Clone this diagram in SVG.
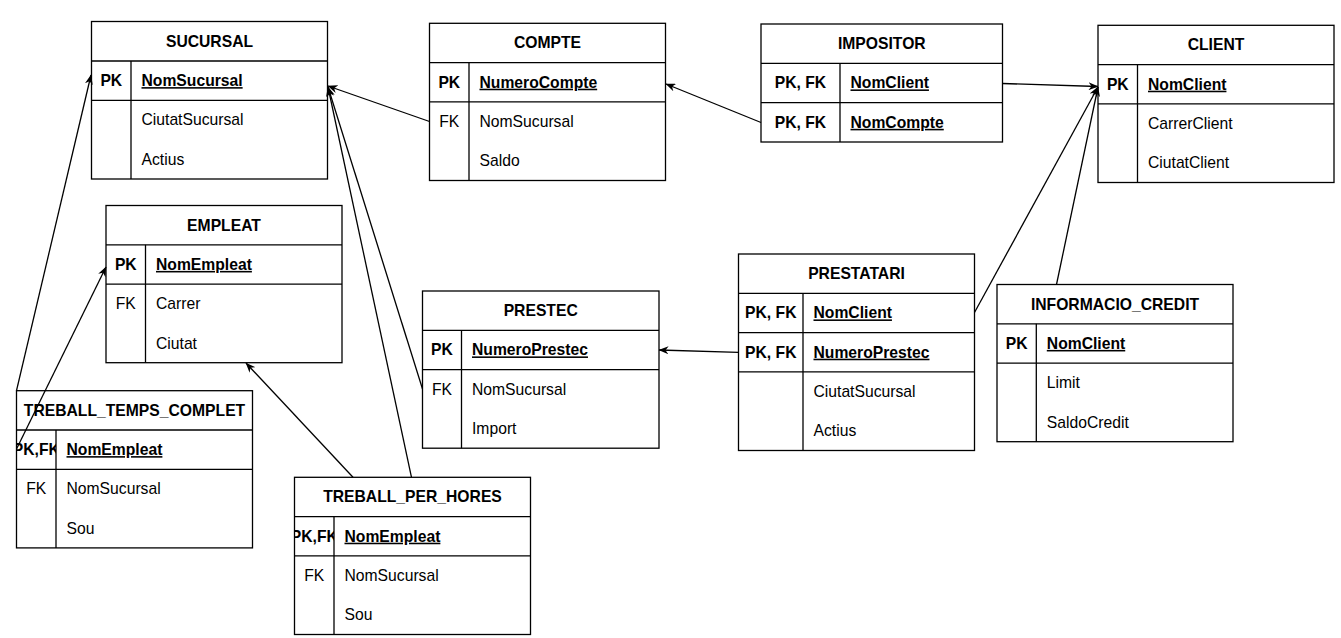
<svg xmlns="http://www.w3.org/2000/svg" width="1341" height="638" viewBox="0 0 1341 638">
<defs>
<style>
.box{fill:#fff;stroke:#000;stroke-width:1.3}
.ln{stroke:#000;stroke-width:1.3;fill:none}
.t{font-family:"Liberation Sans",Arial,sans-serif;font-size:15.7px;fill:#000}
.b{font-weight:bold}
.u{font-weight:bold;text-decoration:underline}
.c{text-anchor:middle}
.conn{stroke:#000;stroke-width:1.3;fill:none;marker-end:url(#arr)}
</style>
<marker id="arr" viewBox="0 0 10 8" markerWidth="10" markerHeight="8" refX="9.5" refY="4" orient="auto" markerUnits="userSpaceOnUse">
<path d="M0,0 L10,4 L0,8 L3,4 Z" fill="#000"/>
</marker>
<clipPath id="clipTTC"><rect x="16.5" y="430" width="39.5" height="39.3"/></clipPath>
<clipPath id="clipTPH"><rect x="294.5" y="516.6" width="39.5" height="39.3"/></clipPath>
</defs>
<rect width="1341" height="638" fill="#fff"/>

<g id="sucursal">
<rect class="box" x="91.5" y="21.5" width="236" height="157.5"/>
<line class="ln" x1="91.5" y1="61" x2="327.5" y2="61"/>
<line class="ln" x1="91.5" y1="100.3" x2="327.5" y2="100.3"/>
<line class="ln" x1="131" y1="61" x2="131" y2="179"/>
<text class="t b c" x="209.5" y="46.8">SUCURSAL</text>
<text class="t b c" x="111.3" y="86.1">PK</text>
<text class="t u" x="141.5" y="86.1">NomSucursal</text>
<text class="t" x="141.5" y="125.4">CiutatSucursal</text>
<text class="t" x="141.5" y="164.7">Actius</text>
</g>

<g id="compte">
<rect class="box" x="429.5" y="23.3" width="236" height="157.2"/>
<line class="ln" x1="429.5" y1="62.6" x2="665.5" y2="62.6"/>
<line class="ln" x1="429.5" y1="101.9" x2="665.5" y2="101.9"/>
<line class="ln" x1="469" y1="62.6" x2="469" y2="180.5"/>
<text class="t b c" x="547.5" y="48.4">COMPTE</text>
<text class="t b c" x="449.3" y="87.7">PK</text>
<text class="t u" x="479.5" y="87.7">NumeroCompte</text>
<text class="t b c" x="449.3" y="127" style="font-weight:normal">FK</text>
<text class="t" x="479.5" y="127">NomSucursal</text>
<text class="t" x="479.5" y="166.3">Saldo</text>
</g>

<g id="impositor">
<rect class="box" x="761" y="24" width="241.5" height="118"/>
<line class="ln" x1="761" y1="63.3" x2="1002.5" y2="63.3"/>
<line class="ln" x1="761" y1="102.6" x2="1002.5" y2="102.6"/>
<line class="ln" x1="840" y1="63.3" x2="840" y2="142"/>
<text class="t b c" x="881.8" y="49.1">IMPOSITOR</text>
<text class="t b c" x="800.5" y="88.4">PK, FK</text>
<text class="t u" x="850.5" y="88.4">NomClient</text>
<text class="t b c" x="800.5" y="127.8">PK, FK</text>
<text class="t u" x="850.5" y="127.8">NomCompte</text>
</g>

<g id="client">
<rect class="box" x="1098" y="25.3" width="236" height="157.2"/>
<line class="ln" x1="1098" y1="64.6" x2="1334" y2="64.6"/>
<line class="ln" x1="1098" y1="103.9" x2="1334" y2="103.9"/>
<line class="ln" x1="1137.5" y1="64.6" x2="1137.5" y2="182.5"/>
<text class="t b c" x="1216" y="50.4">CLIENT</text>
<text class="t b c" x="1117.8" y="89.7">PK</text>
<text class="t u" x="1148" y="89.7">NomClient</text>
<text class="t" x="1148" y="129">CarrerClient</text>
<text class="t" x="1148" y="168.3">CiutatClient</text>
</g>

<g id="empleat">
<rect class="box" x="106" y="205.5" width="236" height="157.2"/>
<line class="ln" x1="106" y1="244.8" x2="342" y2="244.8"/>
<line class="ln" x1="106" y1="284.1" x2="342" y2="284.1"/>
<line class="ln" x1="145.5" y1="244.8" x2="145.5" y2="362.7"/>
<text class="t b c" x="224" y="230.6">EMPLEAT</text>
<text class="t b c" x="125.8" y="269.9">PK</text>
<text class="t u" x="156" y="269.9">NomEmpleat</text>
<text class="t c" x="125.8" y="309.2">FK</text>
<text class="t" x="156" y="309.2">Carrer</text>
<text class="t" x="156" y="348.5">Ciutat</text>
</g>

<g id="prestec">
<rect class="box" x="422.5" y="291" width="236.5" height="157.2"/>
<line class="ln" x1="422.5" y1="330.3" x2="659" y2="330.3"/>
<line class="ln" x1="422.5" y1="369.6" x2="659" y2="369.6"/>
<line class="ln" x1="461.5" y1="330.3" x2="461.5" y2="448.2"/>
<text class="t b c" x="540.7" y="316.1">PRESTEC</text>
<text class="t b c" x="442" y="355.4">PK</text>
<text class="t u" x="472" y="355.4">NumeroPrestec</text>
<text class="t c" x="442" y="394.7">FK</text>
<text class="t" x="472" y="394.7">NomSucursal</text>
<text class="t" x="472" y="434">Import</text>
</g>

<g id="prestatari">
<rect class="box" x="738.5" y="254" width="236" height="196.5"/>
<line class="ln" x1="738.5" y1="293.3" x2="974.5" y2="293.3"/>
<line class="ln" x1="738.5" y1="332.6" x2="974.5" y2="332.6"/>
<line class="ln" x1="738.5" y1="371.9" x2="974.5" y2="371.9"/>
<line class="ln" x1="803" y1="293.3" x2="803" y2="450.5"/>
<text class="t b c" x="856.5" y="279.1">PRESTATARI</text>
<text class="t b c" x="770.8" y="318.4">PK, FK</text>
<text class="t u" x="813.5" y="318.4">NomClient</text>
<text class="t b c" x="770.8" y="357.7">PK, FK</text>
<text class="t u" x="813.5" y="357.7">NumeroPrestec</text>
<text class="t" x="813.5" y="397">CiutatSucursal</text>
<text class="t" x="813.5" y="436.3">Actius</text>
</g>

<g id="informacio_credit">
<rect class="box" x="997" y="284.5" width="236" height="157.2"/>
<line class="ln" x1="997" y1="323.8" x2="1233" y2="323.8"/>
<line class="ln" x1="997" y1="363.1" x2="1233" y2="363.1"/>
<line class="ln" x1="1036.3" y1="323.8" x2="1036.3" y2="441.7"/>
<text class="t b c" x="1115" y="309.6">INFORMACIO_CREDIT</text>
<text class="t b c" x="1016.7" y="348.9">PK</text>
<text class="t u" x="1046.8" y="348.9">NomClient</text>
<text class="t" x="1046.8" y="388.2">Limit</text>
<text class="t" x="1046.8" y="427.5">SaldoCredit</text>
</g>

<g id="treball_temps_complet">
<rect class="box" x="16.5" y="390.7" width="236" height="157.2"/>
<line class="ln" x1="16.5" y1="430" x2="252.5" y2="430"/>
<line class="ln" x1="16.5" y1="469.3" x2="252.5" y2="469.3"/>
<line class="ln" x1="56" y1="430" x2="56" y2="547.9"/>
<text class="t b c" x="134.5" y="415.8">TREBALL_TEMPS_COMPLET</text>
<text class="t b c" x="36.3" y="455.1" clip-path="url(#clipTTC)">PK,FK</text>
<text class="t u" x="66.5" y="455.1">NomEmpleat</text>
<text class="t c" x="36.3" y="494.4">FK</text>
<text class="t" x="66.5" y="494.4">NomSucursal</text>
<text class="t" x="66.5" y="533.7">Sou</text>
</g>

<g id="treball_per_hores">
<rect class="box" x="294.5" y="477.3" width="236" height="157.2"/>
<line class="ln" x1="294.5" y1="516.6" x2="530.5" y2="516.6"/>
<line class="ln" x1="294.5" y1="555.9" x2="530.5" y2="555.9"/>
<line class="ln" x1="334" y1="516.6" x2="334" y2="634.5"/>
<text class="t b c" x="412.5" y="502.4">TREBALL_PER_HORES</text>
<text class="t b c" x="314.3" y="541.7" clip-path="url(#clipTPH)">PK,FK</text>
<text class="t u" x="344.5" y="541.7">NomEmpleat</text>
<text class="t c" x="314.3" y="581">FK</text>
<text class="t" x="344.5" y="581">NomSucursal</text>
<text class="t" x="344.5" y="620.3">Sou</text>
</g>

<g id="connectors">
<line class="conn" x1="429.5" y1="121.5" x2="328" y2="86"/>
<line class="conn" x1="422.5" y1="389" x2="328" y2="87"/>
<line class="conn" x1="411.5" y1="477.3" x2="328" y2="87"/>
<line class="conn" x1="16.5" y1="390.7" x2="91" y2="75"/>
<line class="conn" x1="16.5" y1="449" x2="106" y2="267"/>
<line class="conn" x1="353" y1="477.3" x2="246" y2="363"/>
<line class="conn" x1="761" y1="122.5" x2="666" y2="84"/>
<line class="conn" x1="1002.5" y1="83.5" x2="1098" y2="86.5"/>
<line class="conn" x1="974.5" y1="312.5" x2="1098" y2="87"/>
<line class="conn" x1="1056.5" y1="284.5" x2="1098" y2="87"/>
<line class="conn" x1="738.5" y1="352.3" x2="659" y2="350"/>
</g>
</svg>
